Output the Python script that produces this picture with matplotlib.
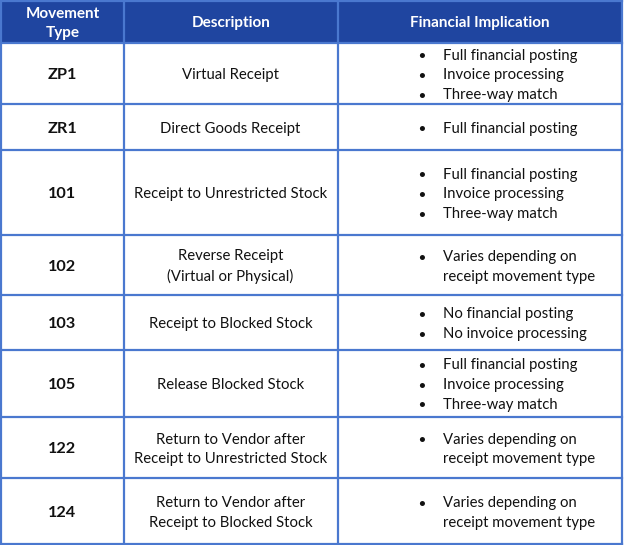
import matplotlib
matplotlib.use("Agg")
import matplotlib.pyplot as plt
from matplotlib.patches import Rectangle

headers = ["Movement\nType", "Description", "Financial Implication"]
codes = ["ZP1", "ZR1", "101", "102", "103", "105", "122", "124"]
descriptions = [
    "Virtual Receipt",
    "Direct Goods Receipt",
    "Receipt to Unrestricted Stock",
    "Reverse Receipt\n(Virtual or Physical)",
    "Receipt to Blocked Stock",
    "Release Blocked Stock",
    "Return to Vendor after\nReceipt to Unrestricted Stock",
    "Return to Vendor after\nReceipt to Blocked Stock",
]
implications = [
    ["Full financial posting", "Invoice processing", "Three-way match"],
    ["Full financial posting"],
    ["Full financial posting", "Invoice processing", "Three-way match"],
    ["Varies depending on\nreceipt movement type"],
    ["No financial posting", "No invoice processing"],
    ["Full financial posting", "Invoice processing", "Three-way match"],
    ["Varies depending on\nreceipt movement type"],
    ["Varies depending on\nreceipt movement type"],
]

# layout (pixels)
W, H = 624, 545
col_edges = [1, 124, 338, 622]
row_edges = [1, 42.5, 104, 149.5, 235, 294.5, 349.5, 416.5, 478, 543.5]
header_color = "#1F45A0"
line_color = "#4A78CF"
line_h = 19.7
FONT = ["Lato", "DejaVu Sans"]
fs = 10.7
dy = 2.2

fig = plt.figure(figsize=(W / 100, H / 100), dpi=100)
ax = fig.add_axes([0, 0, 1, 1])
ax.set_xlim(0, W)
ax.set_ylim(H, 0)
ax.axis("off")

# header
ax.add_patch(Rectangle((col_edges[0], row_edges[0]), col_edges[-1] - col_edges[0],
                       row_edges[1] - row_edges[0], facecolor=header_color, edgecolor="none"))
for i, h in enumerate(headers):
    cx = (col_edges[i] + col_edges[i + 1]) / 2
    cy = (row_edges[0] + row_edges[1]) / 2 + 1.5
    ax.text(cx, cy, h, ha="center", va="center", color="white", fontweight="bold",
            fontsize=fs + 0.3, family=FONT, linespacing=1.45)

# grid lines
for y in row_edges:
    ax.plot([col_edges[0], col_edges[-1]], [y, y], color=line_color, lw=1.6, solid_capstyle="projecting")
for x in col_edges:
    ax.plot([x, x], [row_edges[0], row_edges[-1]], color=line_color, lw=1.6, solid_capstyle="projecting")

bullet_x = 422
text_x = 443
for r in range(len(codes)):
    cy = (row_edges[r + 1] + row_edges[r + 2]) / 2 + dy
    ax.text((col_edges[0] + col_edges[1]) / 2, cy, codes[r], ha="center", va="center",
            fontweight="bold", fontsize=fs + 1.0, family=FONT, color="#111111")
    ax.text((col_edges[1] + col_edges[2]) / 2 - 0.5, cy, descriptions[r], ha="center", va="center",
            fontsize=fs, family=FONT, color="#111111", linespacing=1.5)
    items = implications[r]
    n = len(items)
    for k, item in enumerate(items):
        y = cy + (k - (n - 1) / 2) * line_h
        nl = item.count("\n") + 1
        ytop = y - (nl - 1) / 2 * line_h
        ax.text(bullet_x, ytop, "•", ha="center", va="center", fontsize=fs * 0.8,
                family=FONT, color="#111111", fontweight="bold")
        ax.text(text_x, y, item, ha="left", va="center", fontsize=fs, family=FONT,
                color="#111111", linespacing=1.5)

fig.savefig("out.png", dpi=100)
